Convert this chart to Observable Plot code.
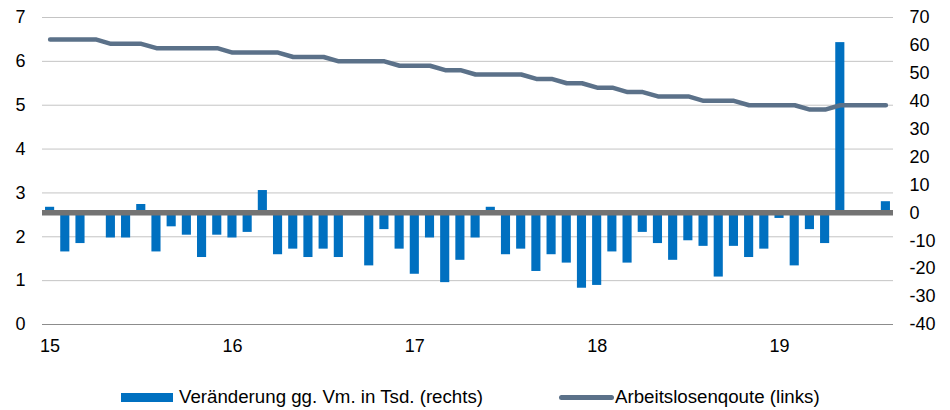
<!DOCTYPE html>
<html>
<head>
<meta charset="utf-8">
<script src="https://cdn.jsdelivr.net/npm/d3@7"></script>
<script src="https://cdn.jsdelivr.net/npm/@observablehq/plot@0.6"></script>
<style>
  html, body { margin: 0; padding: 0; background: #fff; }
  #chart { width: 950px; }
  .legend { position: relative; width: 950px; height: 40px;
            font-family: "Liberation Sans", Arial, sans-serif; font-size: 18.7px; color: #000; }
  .item { position: absolute; top: 17px; height: 20px; display: flex; align-items: center; white-space: nowrap; }
  .sw-bar { width: 52px; height: 9px; background: #0070c0; margin-right: 6px; }
  .sw-line { width: 55px; height: 5px; border-radius: 3px; background: #5b7189; margin-right: 1px; }
</style>
</head>
<body>
<div id="chart"></div>
<div class="legend">
  <div class="item" style="left:121px"><div class="sw-bar"></div><span id="l1"></span></div>
  <div class="item" style="left:559px"><div class="sw-line"></div><span id="l2"></span></div>
</div>
<script>
// Categories
const yearLabels = ["15", "16", "17", "18", "19"];
const monthsPerYear = 12;
const nMonths = 56; // Jan 2015 – Aug 2019

// Series: change vs previous month in thousand (right axis)
const changes = [
  2, -14, -11, 0, -9, -9, 3, -14, -5, -8, -16, -8,
  -9, -7, 8, -15, -13, -16, -13, -16, 0, -19, -6, -13,
  -22, -9, -25, -17, -9, 2, -15, -13, -21, -15, -18, -27,
  -26, -14, -18, -7, -11, -17, -10, -12, -23, -12, -16, -13,
  -2, -19, -6, -11, 61, 0, 0, 4
];

// Series: unemployment rate in % (left axis)
const rate = [
  6.5, 6.5, 6.5, 6.5, 6.4, 6.4, 6.4, 6.3, 6.3, 6.3, 6.3, 6.3,
  6.2, 6.2, 6.2, 6.2, 6.1, 6.1, 6.1, 6.0, 6.0, 6.0, 6.0, 5.9,
  5.9, 5.9, 5.8, 5.8, 5.7, 5.7, 5.7, 5.7, 5.6, 5.6, 5.5, 5.5,
  5.4, 5.4, 5.3, 5.3, 5.2, 5.2, 5.2, 5.1, 5.1, 5.1, 5.0, 5.0,
  5.0, 5.0, 4.9, 4.9, 5.0, 5.0, 5.0, 5.0
];

// Axis ticks
const leftTicks = [0, 1, 2, 3, 4, 5, 6, 7];
const rightTicks = [-40, -30, -20, -10, 0, 10, 20, 30, 40, 50, 60, 70];
const seriesNames = ["Veränderung gg. Vm. in Tsd. (rechts)", "Arbeitslosenqoute (links)"];

document.getElementById("l1").textContent = seriesNames[0];
document.getElementById("l2").textContent = seriesNames[1];

// map right-axis values onto left-axis units
const leftMin = 0, leftMax = 7, rightMin = -40, rightMax = 70;
const toLeft = v => leftMin + (v - rightMin) * (leftMax - leftMin) / (rightMax - rightMin);
const toRight = u => Math.round(rightMin + (u - leftMin) * (rightMax - rightMin) / (leftMax - leftMin));

const months = d3.range(nMonths);
const data = months.map(i => ({i, change: changes[i], rate: rate[i]}));
const januaries = months.filter(i => i % monthsPerYear === 0);

const fontFamily = '"Liberation Sans", Arial, sans-serif';

const chart = Plot.plot({
  width: 950,
  height: 370,
  marginTop: 17,
  marginBottom: 46,
  marginLeft: 42,
  marginRight: 57,
  style: {fontFamily, fontSize: "18px", color: "#000", background: "#fff"},
  x: {type: "band", domain: months, paddingInner: 0.4, paddingOuter: 0.2, round: false},
  y: {domain: [leftMin, leftMax]},
  marks: [
    Plot.gridY(leftTicks.filter(d => d > 0), {stroke: "#c4c4c4", strokeOpacity: 1, strokeWidth: 1}),
    Plot.ruleY([leftMin], {stroke: "#8c8c8c", strokeWidth: 1}),
    Plot.barY(data, {x: "i", y1: () => toLeft(0), y2: d => toLeft(d.change), fill: "#0070c0", inset: 0}),
    Plot.ruleY([toLeft(0)], {stroke: "#737373", strokeWidth: 5.5}),
    Plot.line(data, {x: "i", y: "rate", stroke: "#5b7189", strokeWidth: 4.5, strokeLinecap: "round", strokeLinejoin: "round"}),
    Plot.axisY(leftTicks, {anchor: "left", tickSize: 0, tickPadding: 17, label: null, tickFormat: d => String(d)}),
    Plot.axisY(rightTicks.map(toLeft), {anchor: "right", tickSize: 0, tickPadding: 16, label: null, tickFormat: d => String(toRight(d))}),
    Plot.axisX(januaries, {tickSize: 0, tickPadding: 15, label: null, tickFormat: i => yearLabels[i / monthsPerYear]})
  ]
});
document.getElementById("chart").appendChild(chart);
</script>
</body>
</html>
